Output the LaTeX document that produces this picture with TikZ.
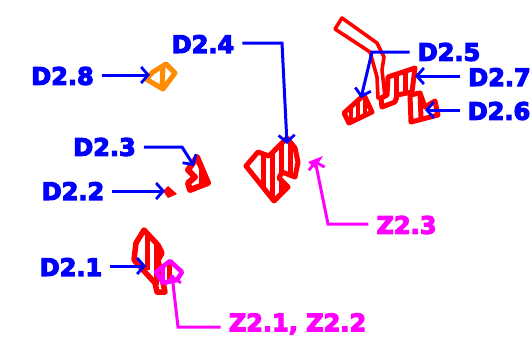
\documentclass[tikz,border=0pt]{standalone}
\usepackage{fontspec}
\setmainfont{DejaVu Sans}
\newfontfamily\lblfont{DejaVu Sans Bold}[FakeBold=5]
\usetikzlibrary{arrows.meta}
\definecolor{lblue}{RGB}{0,0,255}
\definecolor{lred}{RGB}{255,0,0}
\definecolor{lpink}{RGB}{255,0,255}
\definecolor{lorange}{RGB}{255,140,0}
\tikzset{
  lbl/.style={font=\fontsize{24}{24}\selectfont\lblfont, inner xsep=8pt, inner ysep=0pt, text=lblue},
  zlbl/.style={lbl, text=lpink},
  conn/.style={line width=3pt, -{Straight Barb[length=7pt,width=16pt,line width=2.8pt]}},
  bconn/.style={conn, draw=lblue},
  zconn/.style={conn, draw=lpink},
  region/.style={line width=5pt, draw=lred, line join=round},
  stripe/.style={line width=5pt, draw=lred},
}
\begin{document}
\begin{tikzpicture}[x=1pt,y=-1pt]
\useasboundingbox (0,0) rectangle (531,343);
% regions
\draw[region,line width=3.6pt] (342,18)--(377,43)--(384,57)--(382,70)--(385,97)--(378,98)--(377,77)--(370,52)--(335,29)--cycle;
\draw[region] (287,138)--(295,148)--(298,162)--(295,177)--(282,172)--(279,178)--(288,187)--(274,201)--(246,166)--(258,152)--(269,156)--cycle;
\begin{scope}
\clip (287,138)--(295,148)--(298,162)--(295,177)--(282,172)--(279,178)--(288,187)--(274,201)--(246,166)--(258,152)--(269,156)--cycle;
\foreach \x in {263,272,281,290} \draw[stripe] (\x,130)--(\x,205);
\end{scope}
\draw[region] (388,77)--(415,68)--(412,92)--(397,95)--(395,102)--(382,107)--(381,98)--(387,95)--cycle;
\draw[stripe] (396,74)--(396,100) (405,71)--(405,93);
\draw[region] (410,95)--(420,93)--(425,107)--(435,101)--(438,115)--(411,122)--cycle;
\draw[stripe] (420,93)--(421,118);
\draw[region] (344,113)--(364,95)--(372,112)--(349,123)--cycle;
\draw[stripe,line width=4pt] (351,108)--(351,121) (358,102)--(358,118) (365,97)--(365,114);
\draw[region,line width=6pt] (197,157)--(208,183)--(190,190)--(188,183)--(195,177)--(188,170)--cycle;
\draw[stripe] (201,165)--(201,185);
\fill[lred] (168,186)--(177,194)--(168,198)--(163,191)--cycle;
\draw[region,line width=5.5pt] (144,230)--(158,245)--(162,253)--(158,260)--(165,292)--(157,292)--(155,283)--(134,260)--(136,243)--cycle;
\draw[stripe] (147,232)--(147,270) (156,245)--(156,285);
\draw[stripe] (169,264)--(169,282);
\draw[region,draw=lorange,line width=5pt] (166,64)--(175,73)--(163,89)--(146,79)--(153,72)--cycle;
\draw[stripe,draw=lorange] (163,66)--(162,87);
\draw[region,draw=lpink,line width=4.5pt] (170,261)--(182,272)--(177,280)--(163,283)--(156,272)--cycle;
\draw[stripe,draw=lpink,line width=4pt] (163,268)--(163,282) (172,275)--(172,281);
\fill[lpink] (308,162)--(323,156)--(315,168)--cycle;
% labels
\node[lbl] (d28) at (62.5,76) {D2.8};
\node[lbl] (d24) at (203,44) {D2.4};
\node[lbl] (d25) at (449,52) {D2.5};
\node[lbl] (d27) at (499.5,77) {D2.7};
\node[lbl] (d26) at (499,111) {D2.6};
\node[lbl] (d23) at (104.5,147) {D2.3};
\node[lbl] (d22) at (73,191) {D2.2};
\node[lbl] (d21) at (71,267) {D2.1};
\node[zlbl] (z23) at (406.5,225) {Z2.3};
\node[zlbl] (z21) at (297.5,324) {Z2.1, Z2.2};
% connector ends
\coordinate (e25a) at (372,52); \coordinate (e25) at (361,98);
\coordinate (e24a) at (282,43); \coordinate (e24) at (287,144);
\coordinate (e23a) at (182,147); \coordinate (e23) at (194,166);
\coordinate (e28) at (150,75);
\coordinate (e27) at (415,76);
\coordinate (e26) at (425,110);
\coordinate (e22) at (165,191);
\coordinate (e21) at (146,266);
\coordinate (f23a) at (328,224); \coordinate (f23) at (315,160);
\coordinate (f21a) at (178,327); \coordinate (f21) at (172,275);
% connectors
\draw[bconn] (d25.west |- e25a)--(e25a)--(e25);
\draw[bconn] (d24.east |- e24a)--(e24a)--(e24);
\draw[bconn] (d23.east |- e23a)--(e23a)--(e23);
\draw[bconn] (d28.east |- e28)--(e28);
\draw[bconn] (d27.west |- e27)--(e27);
\draw[bconn] (d26.west |- e26)--(e26);
\draw[bconn] (d22.east |- e22)--(e22);
\draw[bconn] (d21.east |- e21)--(e21);
\draw[zconn] (z23.west |- f23a)--(f23a)--(f23);
\draw[zconn] (z21.west |- f21a)--(f21a)--(f21);
\end{tikzpicture}
\end{document}
